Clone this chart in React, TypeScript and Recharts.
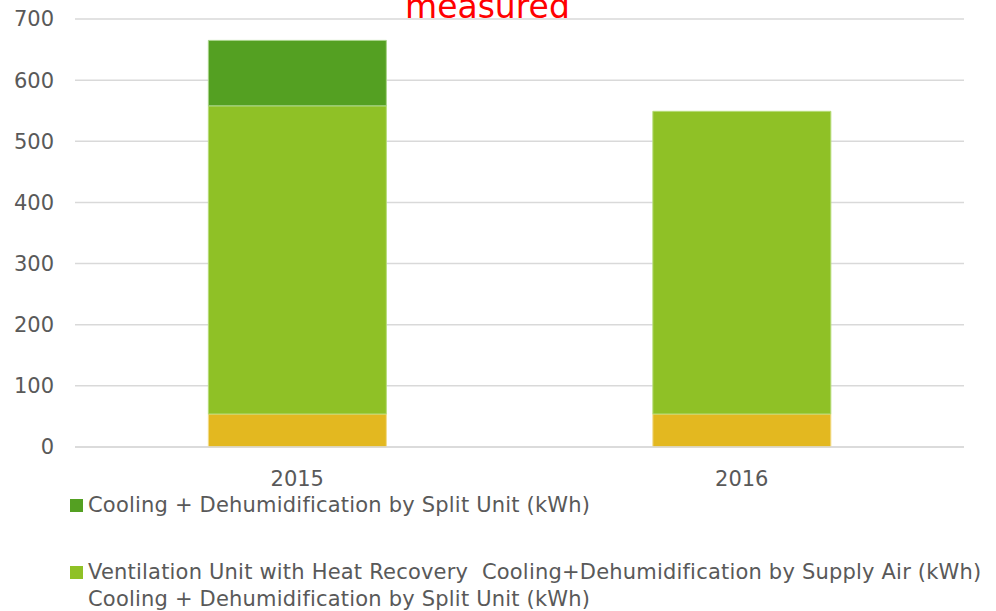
import React from 'react';
import { BarChart, Bar, XAxis, YAxis, CartesianGrid } from 'recharts';

const categories = ['2015', '2016'];
const baseValues = [54, 54];
const supplyAirValues = [504, 495];
const splitUnitValues = [107, 0];
const yTicks = [0, 100, 200, 300, 400, 500, 600, 700];

const seriesNames = {
  base: 'Cooling + Dehumidification by Split Unit (kWh)',
  supply: 'Ventilation Unit with Heat Recovery  Cooling+Dehumidification by Supply Air (kWh)',
  split: 'Cooling + Dehumidification by Split Unit (kWh)',
};

const data = categories.map((c, i) => ({
  year: c,
  base: baseValues[i],
  supply: supplyAirValues[i],
  split: splitUnitValues[i],
}));

const FONT = '"DejaVu Sans", sans-serif';
const TEXT = '#595959';

const LegendBlock = () => (
  <div
    style={{
      position: 'absolute',
      left: 70,
      top: 491,
      fontFamily: FONT,
      fontSize: 21,
      color: TEXT,
      lineHeight: '27px',
      letterSpacing: '0.2px',
      whiteSpace: 'pre',
    }}
  >
    <div style={{ display: 'flex', alignItems: 'center', height: 28 }}>
      <span style={{ display: 'inline-block', width: 13, height: 13, background: '#54A022', marginRight: 5 }} />
      <span>{seriesNames.split}</span>
    </div>
    <div style={{ height: 40 }} />
    <div style={{ display: 'flex', alignItems: 'center', height: 27 }}>
      <span style={{ display: 'inline-block', width: 13, height: 13, background: '#8FC126', marginRight: 5 }} />
      <span>{seriesNames.supply}</span>
    </div>
    <div style={{ paddingLeft: 18, height: 27 }}>{seriesNames.base}</div>
  </div>
);

export default function App() {
  return (
    <div style={{ position: 'absolute', left: 0, top: 0, width: 996, height: 611, background: '#fff', overflow: 'hidden' }}>
      <BarChart
        width={996}
        height={611}
        data={data}
        margin={{ top: 19, right: 32, bottom: 134, left: 0 }}
        barCategoryGap="30%"
      >
        <CartesianGrid vertical={false} stroke="#d9d9d9" strokeWidth={1.5} />
        <XAxis
          dataKey="year"
          height={30}
          axisLine={{ stroke: '#d9d9d9', strokeWidth: 1.5 }}
          tickLine={false}
          tick={{ fill: TEXT, fontSize: 21, fontFamily: FONT }}
          tickMargin={18}
        />
        <YAxis
          width={75}
          domain={[0, 700]}
          ticks={yTicks}
          axisLine={false}
          tickLine={false}
          tick={{ fill: TEXT, fontSize: 21, fontFamily: FONT }}
          tickMargin={15}
          interval={0}
        />
        <Bar dataKey="base" stackId="a" fill="#E3B820" stroke="#f2dc8a" strokeWidth={1} isAnimationActive={false} />
        <Bar dataKey="supply" stackId="a" fill="#8FC126" stroke="#b6dc7a" strokeWidth={1} isAnimationActive={false} />
        <Bar dataKey="split" stackId="a" fill="#54A022" stroke="#a8d48a" strokeWidth={1} isAnimationActive={false} />
      </BarChart>
      <div
        style={{
          position: 'absolute',
          left: 405,
          top: -13,
          fontFamily: FONT,
          fontSize: 33,
          color: '#FF0000',
          whiteSpace: 'nowrap',
        }}
      >
        measured
      </div>
      <LegendBlock />
    </div>
  );
}
